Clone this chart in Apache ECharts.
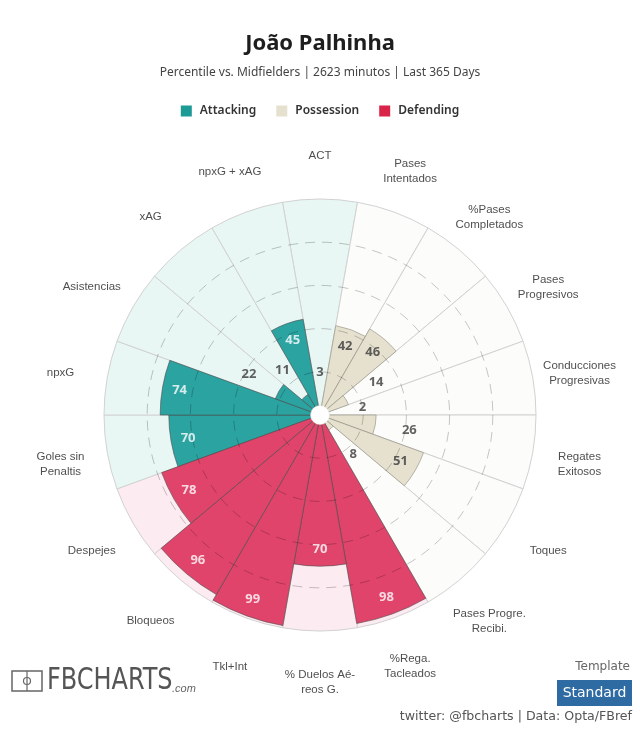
<!DOCTYPE html>
<html>
<head>
<meta charset="utf-8">
<script src="https://cdn.jsdelivr.net/npm/echarts@6/dist/echarts.min.js"></script>
<style>
html,body{margin:0;padding:0;background:#fff;}
#chart{width:640px;height:731px;}
</style>
</head>
<body>
<div id="chart"></div>
<script>
// ---- data ----
const categories = [
  'ACT', 'Pases\nIntentados', '%Pases\nCompletados', 'Pases\nProgresivos',
  'Conducciones\nProgresivas', 'Regates\nExitosos', 'Toques', 'Pases Progre.\nRecibi.',
  '%Rega.\nTacleados', '% Duelos Aé-\nreos G.', 'Tkl+Int', 'Bloqueos', 'Despejes',
  'Goles sin\nPenaltis', 'npxG', 'Asistencias', 'xAG', 'npxG + xAG'
];
const groups = [
  'Attacking', 'Possession', 'Possession', 'Possession',
  'Possession', 'Possession', 'Possession', 'Possession',
  'Defending', 'Defending', 'Defending', 'Defending', 'Defending',
  'Attacking', 'Attacking', 'Attacking', 'Attacking', 'Attacking'
];
const percentiles = [3, 42, 46, 14, 2, 26, 51, 8, 98, 70, 99, 96, 78, 70, 74, 22, 11, 45];
const groupNames = ['Attacking', 'Possession', 'Defending'];
const radiusTicks = [0, 20, 40, 60, 80, 100];

// ---- styles ----
const barColors = {Attacking: '#2ba3a1', Possession: '#e6e1cf', Defending: '#e1446a'};
const legendColors = {Attacking: '#1b9a96', Possession: '#e6e1cf', Defending: '#d92349'};
const bgColors = {Attacking: '#e8f6f4', Possession: '#fcfcfa', Defending: '#fcebf0'};
const labelColors = {Attacking: '#ffffff', Possession: '#3a3a3a', Defending: '#ffffff'};

const chart = echarts.init(document.getElementById('chart'), null, {renderer: 'canvas'});

const bgSeries = {
  type: 'bar', coordinateSystem: 'polar', silent: true, z: 1,
  barCategoryGap: '0%', barGap: '-100%',
  data: categories.map((c, i) => ({
    value: radiusTicks[radiusTicks.length - 1],
    itemStyle: {color: bgColors[groups[i]], borderColor: '#d2d2d2', borderWidth: 1}
  }))
};

const groupSeries = groupNames.map(g => ({
  name: g, type: 'bar', coordinateSystem: 'polar', z: 2,
  barCategoryGap: '0%', barGap: '-100%',
  itemStyle: {color: barColors[g], borderColor: g === 'Possession' ? '#8d8a7c' : '#4a4a4a', borderWidth: 0.6},
  data: percentiles.map((v, i) => groups[i] === g ? v : '-')
}));

const valueLabelSeries = {
  type: 'scatter', coordinateSystem: 'polar', z: 6, silent: true, clip: false,
  symbolSize: 0,
  data: percentiles.map((v, i) => {
    const inside = v >= 30;
    return {
      value: [inside ? v - 8 : Math.max(v + 16, 20), i],
      label: {
        show: true, position: 'inside', formatter: String(v),
        color: inside ? labelColors[groups[i]] : '#3a3a3a',
        fontSize: 13, fontWeight: 'bold', fontFamily: 'Open Sans'
      }
    };
  })
};

const catLabelSeries = {
  type: 'scatter', coordinateSystem: 'polar', z: 6, silent: true, clip: false,
  symbolSize: 0,
  data: categories.map((c, i) => ({
    value: [122, i],
    label: {
      show: true, position: 'inside', formatter: c, offset: [0, 4],
      color: '#222', fontSize: 11.5, lineHeight: 15, fontFamily: 'Liberation Sans', align: 'center'
    }
  }))
};

const option = {
  backgroundColor: '#ffffff',
  animation: false,
  title: {
    text: 'João Palhinha',
    subtext: 'Percentile vs. Midfielders | 2623 minutos | Last 365 Days',
    left: 'center', top: 28, itemGap: 12,
    textStyle: {fontSize: 22, fontWeight: 'bold', color: '#1e1e1e', fontFamily: 'Noto Sans'},
    subtextStyle: {fontSize: 12, color: '#444', fontFamily: 'Noto Sans'}
  },
  legend: {
    data: groupNames.map(g => ({name: g, itemStyle: {color: legendColors[g], borderWidth: 0}})),
    top: 100, left: 'center', icon: 'rect', itemWidth: 11, itemHeight: 11, itemGap: 20,
    selectedMode: false,
    textStyle: {fontSize: 12, fontWeight: 600, color: '#333', fontFamily: 'Noto Sans', padding: [0, 0, 0, 3]}
  },
  polar: {center: [320, 415], radius: [0, 216]},
  angleAxis: {
    type: 'category', data: categories, startAngle: 100, clockwise: true,
    axisLine: {show: false}, axisTick: {show: false}, axisLabel: {show: false}, splitLine: {show: false}
  },
  radiusAxis: {
    type: 'value', min: radiusTicks[0], max: radiusTicks[radiusTicks.length - 1], interval: 20, z: 5,
    axisLine: {show: false}, axisTick: {show: false}, axisLabel: {show: false},
    splitLine: {show: true, lineStyle: {
      color: ['rgba(0,0,0,0)', 'rgba(0,0,0,0.22)', 'rgba(0,0,0,0.22)', 'rgba(0,0,0,0.22)', 'rgba(0,0,0,0.22)', 'rgba(0,0,0,0)'],
      type: [10, 7], width: 1}}
  },
  series: [bgSeries].concat(groupSeries, [valueLabelSeries, catLabelSeries]),
  graphic: [
    {type: 'circle', shape: {cx: 320, cy: 415, r: 9.5}, style: {fill: '#fff', stroke: '#ddd', lineWidth: 0.5}, z: 20},
    // logo
    {type: 'rect', shape: {x: 12, y: 671, width: 30, height: 20}, style: {fill: 'none', stroke: '#666', lineWidth: 1.5}, z: 20},
    {type: 'line', shape: {x1: 27, y1: 671, x2: 27, y2: 691}, style: {stroke: '#666', lineWidth: 1.2}, z: 20},
    {type: 'circle', shape: {cx: 27, cy: 681, r: 3.5}, style: {fill: 'none', stroke: '#666', lineWidth: 1.2}, z: 20},
    {type: 'text', x: 47, y: 681, z: 20, style: {text: 'FBCHARTS', fill: '#555', font: '31px "DejaVu Sans Condensed"', verticalAlign: 'middle'}, scaleX: 0.86},
    {type: 'text', x: 172, y: 689, z: 20, style: {text: '.com', fill: '#666', font: 'italic 11px "Liberation Sans"', verticalAlign: 'middle'}},
    {type: 'text', x: 630, y: 667, z: 20, style: {text: 'Template', fill: '#666', font: '12px "DejaVu Sans"', align: 'right', verticalAlign: 'middle'}},
    {type: 'rect', shape: {x: 557, y: 680, width: 75, height: 26}, style: {fill: '#2f6ba3'}, z: 20},
    {type: 'text', x: 594.5, y: 693, z: 21, style: {text: 'Standard', fill: '#fff', font: '14px "DejaVu Sans"', align: 'center', verticalAlign: 'middle'}},
    {type: 'text', x: 632, y: 717, z: 20, style: {text: 'twitter: @fbcharts | Data: Opta/FBref', fill: '#555', font: '12.6px "DejaVu Sans"', align: 'right', verticalAlign: 'middle'}}
  ]
};
chart.setOption(option);
</script>
</body>
</html>
